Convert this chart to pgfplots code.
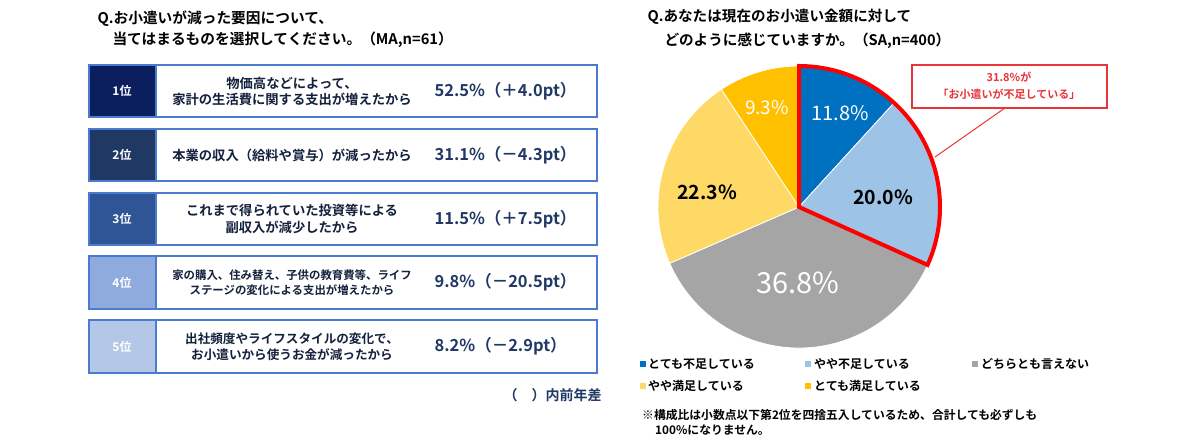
\documentclass[border=0pt]{standalone}
\usepackage{fontspec}
\setmainfont{Noto Sans CJK JP}[BoldFont={Noto Sans CJK JP Bold}]
\usepackage{pgfplots}
\pgfplotsset{compat=1.18}

\definecolor{rA}{HTML}{0B1F5E}
\definecolor{rB}{HTML}{203864}
\definecolor{rC}{HTML}{2F5597}
\definecolor{rD}{HTML}{8FAADC}
\definecolor{rE}{HTML}{B4C7E7}
\definecolor{bord}{HTML}{4A7BD0}
\definecolor{navy}{HTML}{1F3864}
\definecolor{txt}{HTML}{14213D}
\definecolor{cA}{HTML}{0070C0}
\definecolor{cB}{HTML}{9DC3E6}
\definecolor{cC}{HTML}{A5A5A5}
\definecolor{cD}{HTML}{FFD966}
\definecolor{cE}{HTML}{FFC000}
\definecolor{cred}{HTML}{E8353A}

% pie values (%)
\def\vA{11.8}\def\vB{20.0}\def\vC{36.8}\def\vD{22.3}\def\vE{9.3}
\pgfmathsetmacro\kk{360/(\vA+\vB+\vC+\vD+\vE)}
\pgfmathsetmacro\aA{90-\vA*\kk}
\pgfmathsetmacro\aB{\aA-\vB*\kk}
\pgfmathsetmacro\aC{\aB-\vC*\kk}
\pgfmathsetmacro\aD{\aC-\vD*\kk}
\pgfmathsetmacro\aE{\aD-\vE*\kk}

\newcommand\rankrow[8]{% #1 top #2 bottom #3 center #4 color #5 label #6 font #7 description #8 pct
  \fill[#4] (axis cs:89,#1) rectangle (axis cs:156,#2);
  \draw[bord, line width=1.6pt] (axis cs:89,#1) rectangle (axis cs:597,#2);
  \draw[bord, line width=1.6pt] (axis cs:156,#1) -- (axis cs:156,#2);
  \node[text=white, font=\bfseries\fontsize{12}{14}\selectfont] at (axis cs:122,#3) {#5};
  \node[text=txt, align=center, font=#6] at (axis cs:292,#3) {#7};
  \node[text=navy, anchor=west, font=\bfseries\fontsize{16.5}{18}\selectfont] at (axis cs:431,#3) {#8};
}

\begin{document}
\begin{tikzpicture}
\begin{axis}[x=1pt, y=1pt, y dir=reverse, xmin=0, xmax=1200, ymin=0, ymax=436,
  hide axis, clip=false]
\path (axis cs:0,0) rectangle (axis cs:1200,436);

% ---------- left titles
\node[anchor=west, text=black, font=\bfseries\fontsize{14.7}{16}\selectfont] at (axis cs:94,19) {Q.お小遣いが減った要因について、};
\node[anchor=west, text=black, font=\bfseries\fontsize{14.7}{16}\selectfont] at (axis cs:109,40) {当てはまるものを選択してください。（MA,n=61）};

% ---------- ranking rows
\rankrow{65}{117}{91}{rA}{1位}{\bfseries\fontsize{13.3}{16}\selectfont}{物価高などによって、\\家計の生活費に関する支出が増えたから}{52.5\%（＋4.0pt）}
\rankrow{129}{181}{155}{rB}{2位}{\bfseries\fontsize{13.3}{16}\selectfont}{本業の収入（給料や賞与）が減ったから}{31.1\%（－4.3pt）}
\rankrow{193}{245}{219}{rC}{3位}{\bfseries\fontsize{13.3}{16.5}\selectfont}{これまで得られていた投資等による\\副収入が減少したから}{11.5\%（＋7.5pt）}
\rankrow{256}{309}{282.5}{rD}{4位}{\bfseries\fontsize{11.4}{14.5}\selectfont}{家の購入、住み替え、子供の教育費等、ライフ\\ステージの変化による支出が増えたから}{9.8\%（－20.5pt）}
\rankrow{320}{373}{346.5}{rE}{5位}{\bfseries\fontsize{12.6}{16}\selectfont}{出社頻度やライフスタイルの変化で、\\お小遣いから使うお金が減ったから}{8.2\%（－2.9pt）}

\node[anchor=west, text=navy, font=\bfseries\fontsize{14}{16}\selectfont] at (axis cs:500,395) {（　）内前年差};

% ---------- right titles
\node[anchor=west, text=black, font=\bfseries\fontsize{14.6}{16}\selectfont] at (axis cs:644,17) {Q.あなたは現在のお小遣い金額に対して};
\node[anchor=west, text=black, font=\bfseries\fontsize{14.6}{16}\selectfont] at (axis cs:661,41) {どのように感じていますか。（SA,n=400）};

% ---------- pie
\fill[cA, draw=white, line width=0.8pt] (axis cs:799,207) -- ++(90:141pt) arc[start angle=90, end angle=\aA, radius=141pt] -- cycle;
\fill[cB, draw=white, line width=0.8pt] (axis cs:799,207) -- ++(\aA:141pt) arc[start angle=\aA, end angle=\aB, radius=141pt] -- cycle;
\fill[cC, draw=white, line width=0.8pt] (axis cs:799,207) -- ++(\aB:141pt) arc[start angle=\aB, end angle=\aC, radius=141pt] -- cycle;
\fill[cD, draw=white, line width=0.8pt] (axis cs:799,207) -- ++(\aC:141pt) arc[start angle=\aC, end angle=\aD, radius=141pt] -- cycle;
\fill[cE, draw=white, line width=0.8pt] (axis cs:799,207) -- ++(\aD:141pt) arc[start angle=\aD, end angle=\aE, radius=141pt] -- cycle;
\draw[red, line width=4pt, line join=miter] (axis cs:799,207) -- ++(90:141pt) arc[start angle=90, end angle=\aB, radius=141pt] -- cycle;

\node[text=white, font=\fontsize{20}{22}\selectfont] at (axis cs:840,113) {11.8\%};
\node[text=black, font=\bfseries\fontsize{19.5}{22}\selectfont] at (axis cs:883,197) {20.0\%};
\node[text=white, font=\fontsize{29}{32}\selectfont] at (axis cs:798,283) {36.8\%};
\node[text=black, font=\bfseries\fontsize{19.5}{22}\selectfont] at (axis cs:707,192) {22.3\%};
\node[text=white, font=\fontsize{19}{22}\selectfont] at (axis cs:767,108) {9.3\%};

% ---------- callout
\draw[cred, line width=1pt] (axis cs:1005,108) -- (axis cs:935,157);
\draw[cred, line width=1.2pt, fill=white] (axis cs:912,65) rectangle (axis cs:1107,108);
\node[text=cred, font=\bfseries\fontsize{11}{13}\selectfont] at (axis cs:1009,77) {31.8\%が};
\node[text=cred, font=\bfseries\fontsize{11}{13}\selectfont] at (axis cs:1009,94) {「お小遣いが不足している」};

% ---------- legend
\fill[cA] (axis cs:640,361) rectangle (axis cs:646,367);
\node[anchor=west, inner sep=0pt, font=\bfseries\fontsize{12}{14}\selectfont] at (axis cs:648,364) {とても不足している};
\fill[cB] (axis cs:805,361) rectangle (axis cs:811,367);
\node[anchor=west, inner sep=0pt, font=\bfseries\fontsize{12}{14}\selectfont] at (axis cs:814,364) {やや不足している};
\fill[cC] (axis cs:972,361) rectangle (axis cs:978,367);
\node[anchor=west, inner sep=0pt, font=\bfseries\fontsize{12}{14}\selectfont] at (axis cs:981,364) {どちらとも言えない};
\fill[cD] (axis cs:640,383) rectangle (axis cs:646,389);
\node[anchor=west, inner sep=0pt, font=\bfseries\fontsize{12}{14}\selectfont] at (axis cs:648,386) {やや満足している};
\fill[cE] (axis cs:805,383) rectangle (axis cs:811,389);
\node[anchor=west, inner sep=0pt, font=\bfseries\fontsize{12}{14}\selectfont] at (axis cs:814,386) {とても満足している};

% ---------- note
\node[anchor=west, inner sep=0pt, font=\bfseries\fontsize{11.8}{13}\selectfont] at (axis cs:642,415) {※構成比は小数点以下第2位を四捨五入しているため、合計しても必ずしも};
\node[anchor=west, inner sep=0pt, font=\bfseries\fontsize{11.8}{13}\selectfont] at (axis cs:655,430) {100\%になりません。};
\end{axis}
\end{tikzpicture}
\end{document}
